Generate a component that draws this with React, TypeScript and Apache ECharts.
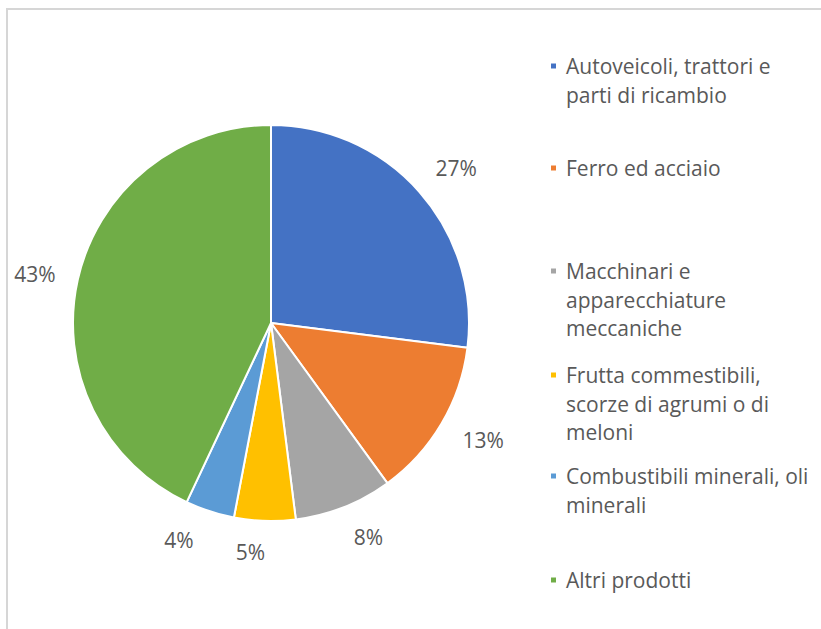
import { useEffect, useRef } from 'react';
import * as echarts from 'echarts';

// ---- data ----
const categories = [
  'Autoveicoli, trattori e parti di ricambio',
  'Ferro ed acciaio',
  'Macchinari e apparecchiature meccaniche',
  'Frutta commestibili, scorze di agrumi o di meloni',
  'Combustibili minerali, oli minerali',
  'Altri prodotti',
];
const legendLines = [
  ['Autoveicoli, trattori e', 'parti di ricambio'],
  ['Ferro ed acciaio'],
  ['Macchinari e', 'apparecchiature', 'meccaniche'],
  ['Frutta commestibili,', 'scorze di agrumi o di', 'meloni'],
  ['Combustibili minerali, oli', 'minerali'],
  ['Altri prodotti'],
];
const shares = [27, 13, 8, 5, 4, 43];
const colors = ['#4472C4', '#ED7D31', '#A5A5A5', '#FFC000', '#5B9BD5', '#70AD47'];

// ---- layout ----
const FONT = 'Open Sans';
const TEXT_COLOR = '#595959';
const LINE = 28.5;
const legendCenters = [66, 168, 271, 375, 476, 580];
const labelNudges = [
  [3, 6],
  [3, -7],
  [8, -12],
  [-13, -14],
  [-17, -14],
  [1, 4],
];

export default function App() {
  const ref = useRef<HTMLDivElement>(null);
  useEffect(() => {
    document.body.style.margin = '0';
    const chart = echarts.init(ref.current!, null, { renderer: 'svg' });
    const legends = categories.map((name, i) => {
      const n = legendLines[i].length;
      return {
        orient: 'vertical',
        left: 549,
        top: legendCenters[i] - ((2 * n - 1) * LINE) / 2,
        padding: 0,
        itemWidth: 7,
        itemHeight: 7,
        icon: 'rect',
        selectedMode: false,
        data: [name],
        formatter: (nm: string) => {
          const lines = legendLines[categories.indexOf(nm)];
          return '\n'.repeat(lines.length - 1) + lines.join('\n');
        },
        textStyle: {
          fontFamily: FONT,
          fontSize: 21,
          color: TEXT_COLOR,
          lineHeight: LINE,
          padding: [0, 0, 0, 4],
        },
      };
    });
    chart.setOption({
      animation: false,
      backgroundColor: '#ffffff',
      legend: legends,
      graphic: [
        {
          type: 'rect',
          shape: { x: 7, y: 9, width: 1000, height: 1000 },
          style: { fill: 'none', stroke: '#d6d6d6', lineWidth: 2 },
          silent: true,
        },
      ],
      series: [
        {
          type: 'pie',
          center: [271, 323],
          radius: 198,
          startAngle: 90,
          silent: true,
          label: { show: false },
          labelLine: { show: false },
          itemStyle: { borderColor: '#ffffff', borderWidth: 2 },
          data: categories.map((name, i) => ({
            name,
            value: shares[i],
            itemStyle: { color: colors[i] },
          })),
        },
        {
          type: 'pie',
          center: [271, 323],
          radius: [0, 480],
          startAngle: 90,
          silent: true,
          labelLine: { show: false },
          label: {
            show: true,
            position: 'inside',
            formatter: '{c}%',
            fontFamily: FONT,
            fontSize: 21,
            color: TEXT_COLOR,
          },
          itemStyle: { color: 'rgba(0,0,0,0)', borderWidth: 0 },
          data: categories.map((name, i) => ({
            name,
            value: shares[i],
            label: { offset: labelNudges[i] },
          })),
        },
      ],
    });
    return () => chart.dispose();
  }, []);
  return <div ref={ref} style={{ width: 821, height: 629 }} />;
}
